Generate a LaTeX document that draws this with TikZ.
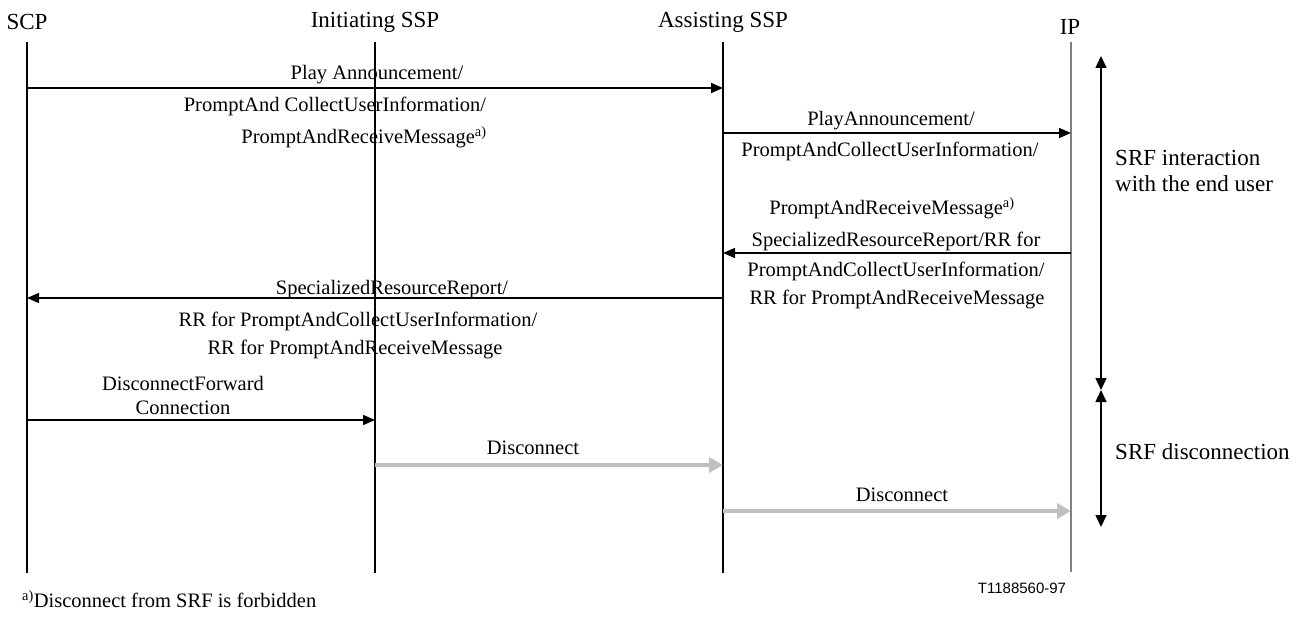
\documentclass[tikz,border=0pt]{standalone}
\usepackage{fontspec}
\setmainfont{Liberation Serif}
\newfontfamily\tsans{Liberation Sans}
\usetikzlibrary{arrows.meta}
\definecolor{lgray}{RGB}{192,192,192}
\definecolor{mgray}{RGB}{128,128,128}
\begin{document}
\begin{tikzpicture}[x=1pt,y=-1pt,
  lbl/.style={font=\fontsize{20.5}{22}\selectfont, inner sep=0pt, anchor=center},
  big/.style={font=\fontsize{23}{25}\selectfont, inner sep=0pt},
  life/.style={line width=1.6pt},
  msg/.style={line width=1.6pt,-{Triangle[length=12pt,width=10pt]}},
  gmsg/.style={line width=4pt,draw=lgray,-{Triangle[length=14pt,width=15pt]}},
  span/.style={line width=1.6pt,{Triangle[length=12pt,width=11pt]}-{Triangle[length=12pt,width=11pt]}}]
\useasboundingbox (0,0) rectangle (1311,617);
% headers
\node[big] (hscp) at (27,22) {SCP};
\node[big] (hinit) at (375,22) {Initiating SSP};
\node[big] (hassist) at (723,22) {Assisting SSP};
\node[big] (hip) at (1070,27) {IP};
% lifelines
\coordinate (scpT) at (27,42);   \coordinate (scpB) at (27,573);
\coordinate (initT) at (375,42); \coordinate (initB) at (375,573);
\coordinate (asT) at (723,42);   \coordinate (asB) at (723,573);
\coordinate (ipT) at (1071,42);  \coordinate (ipB) at (1071,572);
\draw[life] (scpT) -- (scpB);
\draw[life] (initT) -- (initB);
\draw[life] (asT) -- (asB);
\draw[line width=1.2pt,draw=mgray] (ipT) -- (ipB);
% message end points
\coordinate (m1a) at (27,88);   \coordinate (m1b) at (723,88);
\coordinate (m2a) at (723,133); \coordinate (m2b) at (1071,133);
\coordinate (m3a) at (1071,253); \coordinate (m3b) at (723,253);
\coordinate (m4a) at (723,298); \coordinate (m4b) at (27,298);
\coordinate (m5a) at (27,420);  \coordinate (m5b) at (375,420);
\coordinate (m6a) at (375,465); \coordinate (m6b) at (723,465);
\coordinate (m7a) at (723,511); \coordinate (m7b) at (1071,511);
\draw[msg] (m1a) -- (m1b);
\draw[msg] (m2a) -- (m2b);
\draw[msg] (m3a) -- (m3b);
\draw[msg] (m4a) -- (m4b);
\draw[msg] (m5a) -- (m5b);
\draw[gmsg] (m6a) -- (m6b);
\draw[gmsg] (m7a) -- (m7b);
% labels
\node[lbl] (l1a) at (377,75) {Play Announcement/};
\node[lbl] (l1b) at (335,106) {PromptAnd CollectUserInformation/};
\node[lbl] (l1c) at (364,137) {PromptAndReceiveMessage\textsuperscript{a)}};
\node[lbl] (l2a) at (891,121) {PlayAnnouncement/};
\node[lbl] (l2b) at (890,151) {PromptAndCollectUserInformation/};
\node[lbl] (l2c) at (892,208) {PromptAndReceiveMessage\textsuperscript{a)}};
\node[lbl] (l3a) at (896,241) {SpecializedResourceReport/RR for};
\node[lbl] (l3b) at (896,271) {PromptAndCollectUserInformation/};
\node[lbl] (l3c) at (897,299) {RR for PromptAndReceiveMessage};
\node[lbl] (l4a) at (392,290) {SpecializedResourceReport/};
\node[lbl] (l4b) at (358,321) {RR for PromptAndCollectUserInformation/};
\node[lbl] (l4c) at (355,349) {RR for PromptAndReceiveMessage};
\node[lbl] (l5a) at (183,383) {DisconnectForward};
\node[lbl] (l5b) at (183,408) {Connection};
\node[lbl] (l6) at (533,448) {Disconnect};
\node[lbl] (l7) at (902,495) {Disconnect};
% phases
\coordinate (pT) at (1101,56);
\coordinate (pM) at (1101,390);
\coordinate (pB) at (1101,527);
\draw[span] (pT) -- (pM);
\draw[span] (pM) -- (pB);
\node[big,anchor=west] (ph1a) at (1115,158) {SRF interaction};
\node[big,anchor=west] (ph1b) at (1115,184) {with the end user};
\node[big,anchor=west] (ph2) at (1115,452) {SRF disconnection};
% footer
\node[inner sep=0pt,font=\tsans\fontsize{15}{17}\selectfont] (tag) at (1022,588) {T1188560-97};
\node[lbl,anchor=west] (fn) at (22,599) {\textsuperscript{a)}Disconnect from SRF is forbidden};
\end{tikzpicture}
\end{document}
